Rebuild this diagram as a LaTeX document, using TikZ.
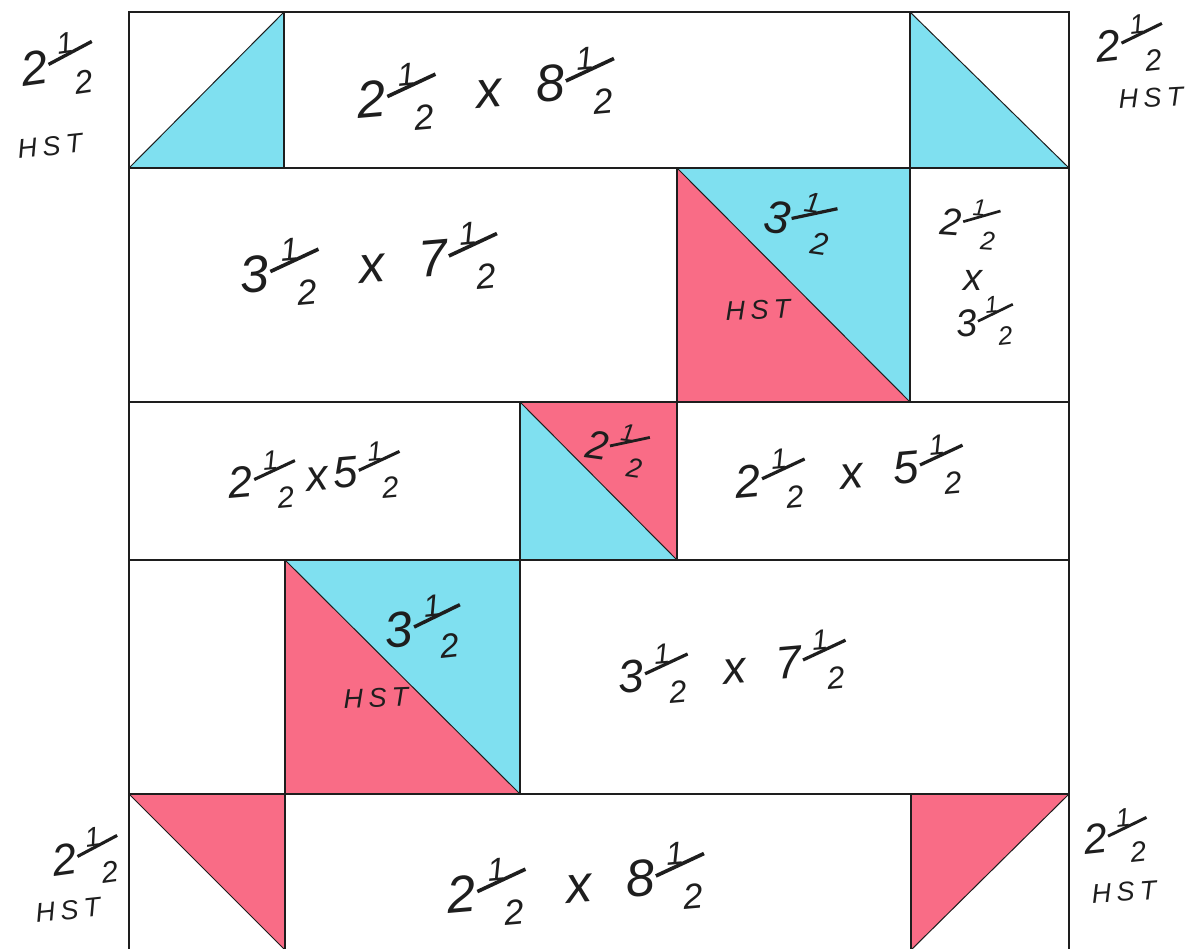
\documentclass[tikz,border=0pt]{standalone}
\usepackage{fontspec}
\usepackage{graphicx}
\setmainfont{Liberation Sans}
\definecolor{quiltcyan}{HTML}{7FE0F0}
\definecolor{quiltpink}{HTML}{F96C86}
\definecolor{ink}{HTML}{1E1E1E}
% a whole number with a hand-written stacked one half
\newcommand{\hlf}[1]{#1\kern.02em\makebox[1.07em][l]{%
  \rlap{\kern.24em\raisebox{.55em}{\fontsize{.62em}{.62em}\selectfont 1}}%
  \rlap{\raisebox{.34em}{\rotatebox{20}{\rule{1.02em}{.07em}}}}%
  \rlap{\kern.5em\raisebox{-.32em}{\fontsize{.68em}{.68em}\selectfont 2}}}}
\newcommand{\xx}{\hspace{.65em}x\hspace{.65em}}
\newcommand{\hstt}{H\kern.2em S\kern.2em T}
\tikzset{
  cell/.style={draw=ink,line width=1.3pt,line join=miter},
  hand/.style={text=ink,inner sep=0pt,font=\fontsize{#1}{#1}\selectfont\itshape,align=center},
  hand/.default=52,
  hst/.style={text=ink,inner sep=0pt,font=\fontsize{27}{29}\selectfont\itshape}
}
\begin{document}
\begin{tikzpicture}[x=1pt,y=-1pt]
\useasboundingbox (0,0) rectangle (1196,949);
\fill[white] (0,0) rectangle (1196,949);
\begin{scope}
\clip (0,0) rectangle (1196,949);
% half-square triangles
\fill[quiltcyan] (129,168) -- (284,12) -- (284,168) -- cycle;
\fill[quiltcyan] (910,12) -- (1069,168) -- (910,168) -- cycle;
\fill[quiltcyan] (677,168) -- (910,168) -- (910,402) -- cycle;
\fill[quiltpink] (677,168) -- (910,402) -- (677,402) -- cycle;
\fill[quiltpink] (520,402) -- (677,402) -- (677,560) -- cycle;
\fill[quiltcyan] (520,402) -- (677,560) -- (520,560) -- cycle;
\fill[quiltcyan] (285,560) -- (520,560) -- (520,794) -- cycle;
\fill[quiltpink] (285,560) -- (520,794) -- (285,794) -- cycle;
\fill[quiltpink] (129,794) -- (285,794) -- (285,950) -- cycle;
\fill[quiltpink] (911,794) -- (1069,794) -- (911,950) -- cycle;
% diagonals
\draw[cell,line width=1pt] (129,168) -- (284,12);
\draw[cell,line width=1pt] (910,12) -- (1069,168);
\draw[cell,line width=1pt] (677,168) -- (910,402);
\draw[cell,line width=1pt] (520,402) -- (677,560);
\draw[cell,line width=1pt] (285,560) -- (520,794);
\draw[cell,line width=1pt] (129,794) -- (285,950);
\draw[cell,line width=1pt] (1069,794) -- (911,950);
% seams
\draw[cell] (129,12) rectangle (1069,960);
\draw[cell] (129,168) -- (1069,168);
\draw[cell] (129,402) -- (1069,402);
\draw[cell] (129,560) -- (1069,560);
\draw[cell] (129,794) -- (1069,794);
\draw[cell] (284,12) -- (284,168);
\draw[cell] (910,12) -- (910,402);
\draw[cell] (677,168) -- (677,560);
\draw[cell] (520,402) -- (520,794);
\draw[cell] (285,560) -- (285,950);
\draw[cell] (911,794) -- (911,950);
\end{scope}
% labels inside
\node[hand=52,rotate=5] (t1) at (489,90) {\hlf{2}\xx\hlf{8}};
\node[hand=52,rotate=5] (t2) at (372,265) {\hlf{3}\xx\hlf{7}};
\node[hand=46,rotate=-8] (t3) at (802,222) {\hlf{3}};
\node[hst,rotate=2] (t4) at (758,310) {\hstt};
\node[hand=38,rotate=-4] (t5a) at (972,224) {\hlf{2}};
\node[hand=38] (t5b) at (973,280) {x};
\node[hand=38,rotate=6] (t5c) at (987,322) {\hlf{3}};
\node[hand=44,rotate=5] (t6) at (317,476) {\hlf{2}\kern.12em x\kern.12em\hlf{5}};
\node[hand=40,rotate=-8] (t7) at (619,449) {\hlf{2}};
\node[hand=46,rotate=5] (t8) at (852,473) {\hlf{2}\xx\hlf{5}};
\node[hand=50,rotate=6] (t9) at (426,628) {\hlf{3}};
\node[hst,rotate=2] (t10) at (376,698) {\hstt};
\node[hand=46,rotate=5] (t11) at (735,668) {\hlf{3}\xx\hlf{7}};
\node[hand=52,rotate=5] (t12) at (579,885) {\hlf{2}\xx\hlf{8}};
% labels outside
\node[hand=48,rotate=8] (o1) at (60,65) {\hlf{2}};
\node[hst,rotate=6] (o2) at (50,146) {\hstt};
\node[hand=44,rotate=6] (o3) at (1132,44) {\hlf{2}};
\node[hst,rotate=3] (o4) at (1151,98) {\hstt};
\node[hand=44,rotate=8] (o5) at (88,857) {\hlf{2}};
\node[hst,rotate=6] (o6) at (68,910) {\hstt};
\node[hand=42,rotate=6] (o7) at (1118,837) {\hlf{2}};
\node[hst,rotate=4] (o8) at (1124,892) {\hstt};
\end{tikzpicture}
\end{document}
